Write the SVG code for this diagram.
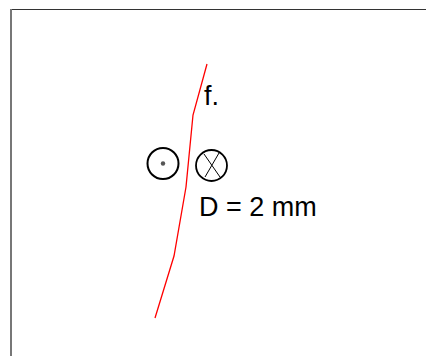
<svg xmlns="http://www.w3.org/2000/svg" width="426" height="356" viewBox="0 0 426 356">
<style>
.lbl{font-family:"Liberation Sans",Arial,sans-serif;font-size:27px;fill:#000}
.ring{fill:none;stroke:#000}
</style>
<rect width="426" height="356" fill="#fff"/>
<g id="frame">
<line x1="10" y1="9.5" x2="426" y2="9.5" stroke="#333" stroke-width="1"/>
<line x1="11" y1="9" x2="11" y2="356" stroke="#777" stroke-width="2"/>
</g>
<g id="connectors">
<polyline points="207,64 193,115 186,187 174,256 155,318" fill="none" stroke="#f00" stroke-width="1.3"/>
</g>
<g id="dot-circle">
<circle class="ring" cx="163" cy="163.5" r="15.5" stroke-width="2"/>
<circle cx="163" cy="163.5" r="2.2" fill="#555"/>
</g>
<g id="cross-circle">
<circle class="ring" cx="211.5" cy="165.5" r="15.5" stroke-width="1.8"/>
<line x1="204" y1="154" x2="220" y2="177" stroke="#000" stroke-width="1"/>
<line x1="219" y1="153" x2="205" y2="177" stroke="#000" stroke-width="1"/>
</g>
<g id="label-f">
<text class="lbl" x="204" y="105">f.</text>
</g>
<g id="label-d">
<text class="lbl" x="199" y="216">D = 2 mm</text>
</g>
</svg>
